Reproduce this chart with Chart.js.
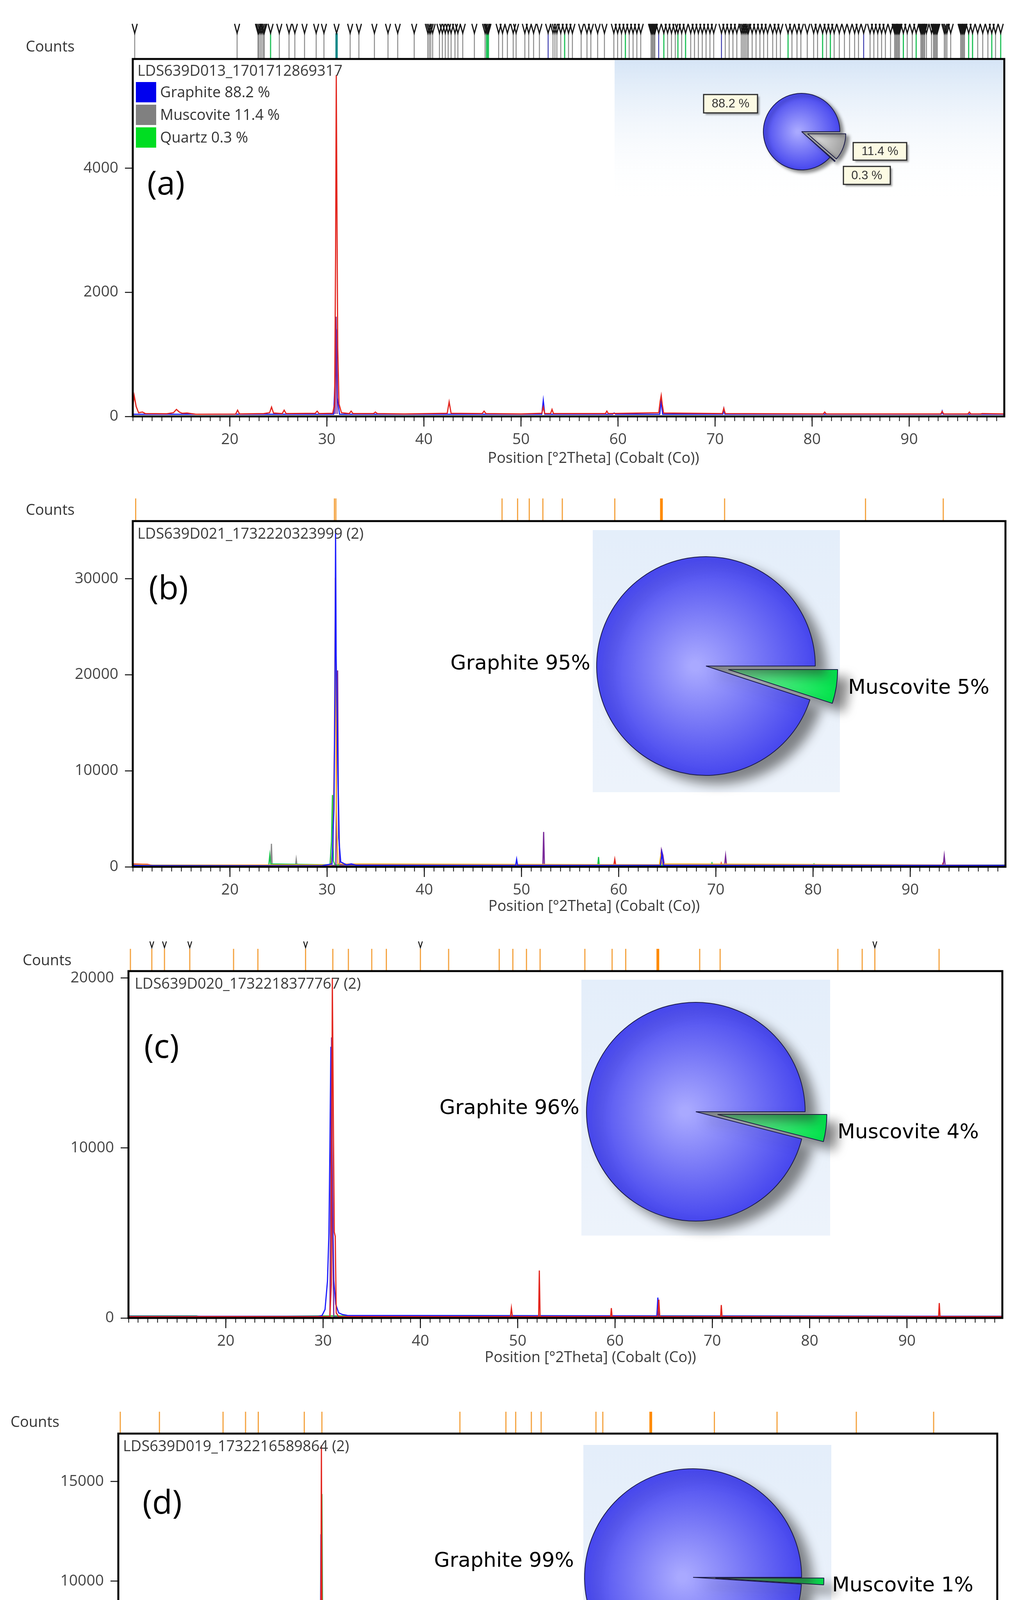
<!DOCTYPE html>
<html>
<head>
<meta charset="utf-8">
<title>XRD patterns (a)-(d)</title>
<script src="https://cdn.jsdelivr.net/npm/chart.js@4.4.1/dist/chart.umd.min.js"></script>
<style>
  html, body { margin: 0; padding: 0; background: #fff; }
  body { position: relative; width: 2602px; height: 4737px; overflow: hidden; }
  canvas { position: absolute; }
</style>
</head>
<body>
<canvas id="xrdA"></canvas>
<canvas id="pieA"></canvas>
<canvas id="xrdB"></canvas>
<canvas id="pieB"></canvas>
<canvas id="xrdC"></canvas>
<canvas id="pieC"></canvas>
<canvas id="xrdD"></canvas>
<canvas id="pieD"></canvas>
<script>
// ---------- shared axis data ----------
const xMin = 10;
const xMax = 99.8;
const xLabelTicks = [20, 30, 40, 50, 60, 70, 80, 90];
const xTitle = "Position [°2Theta] (Cobalt (Co))";

// ---------- (a) LDS639D013 ----------
const sampleA = "LDS639D013_1701712869317";
const countTicksA = [0, 2000, 4000];
const countMaxA = 5760;
const phasesA = ["Graphite", "Muscovite", "Quartz"];
const percentA = [88.2, 11.4, 0.3];
const obsA = [[10.0,150],[10.15,334],[10.35,160],[10.6,60],[11.0,70],[11.3,45],[13.5,42],[14.2,60],[14.5,113],[14.8,70],[15.1,50],[15.6,55],[16.0,45],[16.5,35],[20.6,38],[20.8,100],[21.0,40],[23.5,45],[24.1,60],[24.3,150],[24.5,55],[25.4,45],[25.6,100],[25.8,45],[28.8,50],[29.0,85],[29.2,45],[30.6,50],[30.8,200],[30.9,2600],[30.97,5500],[31.05,3000],[31.12,1100],[31.25,200],[31.5,60],[32.3,45],[32.5,85],[32.7,45],[34.8,45],[35.0,70],[35.2,45],[38.0,40],[42.4,50],[42.6,233],[42.8,50],[46.0,45],[46.2,85],[46.4,45],[50.0,40],[52.15,50],[52.3,150],[52.45,45],[53.05,45],[53.2,113],[53.35,45],[58.7,45],[58.85,85],[59.0,45],[64.2,60],[64.35,250],[64.45,337],[64.55,200],[64.7,55],[70.75,45],[70.9,131],[71.05,45],[81.15,40],[81.3,70],[81.45,40],[93.25,40],[93.4,80],[93.55,40],[96.05,40],[96.2,70],[96.35,40],[97.4,40],[97.5,45],[99.8,40]];
const calcA = [[10.0,35],[30.7,35],[30.85,600],[30.93,1420],[31.0,1380],[31.08,300],[31.3,35],[52.15,35],[52.3,258],[52.45,35],[59.45,35],[59.6,55],[59.75,35],[64.3,35],[64.45,250],[64.6,35],[70.8,35],[70.9,120],[71.0,35],[93.3,35],[93.4,85],[93.5,35],[99.8,35]];
const phaseA = [[30.85,40],[30.95,1607],[31.05,40]];
const refGrayA = [10.2,20.75,22.9,23.0,23.15,23.3,23.45,23.55,25.1,26.1,26.7,27.7,28.9,29.7,32.4,33.3,34.9,36.3,37.3,39.0,40.4,40.55,40.7,40.9,41.6,41.9,42.2,42.5,42.8,43.2,43.5,44.0,45.2,46.3,47.7,48.1,48.6,49.2,49.5,50.4,50.8,51.3,51.9,53.3,53.5,53.7,54.1,54.9,55.3,56.2,56.8,57.2,57.9,58.6,59.57,59.96,60.36,61.15,61.55,61.94,62.34,63.4,63.5,63.6,63.7,63.8,65.11,65.51,65.9,66.56,67.49,67.88,68.28,68.68,69.07,69.47,69.86,71.05,71.45,71.84,72.24,72.7,72.85,73.0,73.15,73.3,73.43,73.82,74.22,74.62,75.01,75.41,75.94,76.33,76.73,77.92,78.44,78.84,79.5,80.16,80.56,81.48,82.27,82.8,83.33,83.86,84.38,84.78,85.97,86.36,86.76,87.16,87.55,88.08,88.5,88.6,88.7,88.8,88.9,89.0,89.8,90.32,91.2,91.3,91.4,91.5,91.6,91.78,92.3,92.5,92.6,92.7,92.8,92.9,93.62,93.75,93.89,94.28,95.3,95.4,95.5,95.6,95.7,97.06,97.58,98.11,98.9];
const refGreenA = [24.2,46.45,46.55,46.65,54.5,60.76,64.72,66.17,66.96,77.52,81.08,81.88,89.4,90.72,96.13,96.53,98.51,99.43];
const refBlueA = [52.8,64.19,70.66,85.31];
const refTealA = [31.0];

// ---------- (b) LDS639D021 ----------
const sampleB = "LDS639D021_1732220323999 (2)";
const countTicksB = [0, 10000, 20000, 30000];
const countMaxB = 36000;
const phasesB = ["Muscovite", "Graphite"];
const percentB = [5, 95];
const blueB = [[10,150],[12,120],[24,110],[29.5,120],[30.5,300],[30.7,6000],[30.8,17600],[30.87,35200],[30.93,22000],[31.0,17000],[31.08,12000],[31.2,3000],[31.4,500],[32,200],[32.5,300],[33,150],[49.4,150],[49.5,780],[49.6,150],[64.3,150],[64.45,1400],[64.6,150],[99.8,150]];
const purpleB = [[10,100],[30.9,100],[31.0,15000],[31.08,20450],[31.15,8000],[31.3,200],[52.2,150],[52.28,3630],[52.36,150],[64.3,200],[64.4,1750],[64.55,1200],[64.7,150],[70.9,150],[71.0,1140],[71.1,150],[93.4,150],[93.5,1140],[93.6,150],[99.8,120]];
const orangeB = [[10,200],[11,230],[12,150],[30.4,200],[30.6,2000],[30.75,12650],[30.85,30100],[30.95,6000],[31.1,300],[64.2,200],[64.32,1100],[64.45,300],[99.8,160]];
const greenB = [[10,150],[24.0,150],[24.1,1220],[24.2,300],[30.3,200],[30.45,2650],[30.55,7470],[30.65,600],[30.8,200],[57.85,150],[57.93,1020],[58.0,150],[69.5,150],[69.6,400],[69.7,150],[80.0,150],[80.1,300],[80.2,150],[99.8,180]];
const grayB = [[10,150],[24.2,150],[24.27,2400],[24.35,150],[26.75,150],[26.82,780],[26.9,150],[99.8,150]];
const redB = [[10,300],[11.5,250],[12,150],[59.5,150],[59.6,780],[59.7,150],[70.5,150],[70.55,350],[70.6,150],[93.3,150],[93.35,300],[93.4,150],[99.8,150]];
const refOrangeB = [10.3,30.75,30.9,48.0,49.6,50.8,52.2,54.2,59.6,70.9,85.4,93.4];
const refStrongB = [64.4];

// ---------- (c) LDS639D020 ----------
const sampleC = "LDS639D020_1732218377767 (2)";
const countTicksC = [0, 10000, 20000];
const countMaxC = 20400;
const phasesC = ["Muscovite", "Graphite"];
const percentC = [4, 96];
const redC = [[10,80],[30.7,80],[30.85,2000],[30.95,20000],[31.05,12000],[31.15,5050],[31.25,4800],[31.35,300],[31.6,80],[49.25,80],[49.35,580],[49.45,80],[52.15,80],[52.22,2790],[52.3,80],[59.55,80],[59.62,580],[59.7,80],[64.4,80],[64.5,1080],[64.6,80],[70.85,80],[70.92,760],[71.0,80],[93.25,80],[93.32,875],[93.4,80],[99.8,80]];
const blueC = [[10,100],[29.5,100],[29.9,150],[30.2,500],[30.45,2170],[30.6,5000],[30.7,10000],[30.8,15950],[30.9,12000],[31.0,6000],[31.1,2200],[31.3,800],[31.6,300],[32.0,200],[32.5,150],[64.3,120],[64.4,1200],[64.5,120],[99.8,100]];
const purpleC = [[10,60],[30.7,60],[30.8,9000],[30.87,16500],[30.95,6000],[31.1,60],[99.8,60]];
const greenC = [[10,120],[17,120],[17.5,60],[29.5,120],[45,140],[99.8,100]];
const orangeC = [[10,90],[30,90],[47,110],[99.8,90]];
const refOrangeC = [10.2,12.4,13.7,16.3,20.8,23.3,28.2,31.0,32.6,35.0,36.5,40.0,42.9,48.1,49.5,50.9,52.3,56.9,59.7,61.1,68.7,70.8,82.9,85.4,86.7,93.3];
const refStrongC = [64.4];
const refMarkC = [12.4,13.7,16.3,28.2,40.0,86.7];

// ---------- (d) LDS639D019 ----------
const sampleD = "LDS639D019_1732216589864 (2)";
const countTicksD = [0, 5000, 10000, 15000];
const countMaxD = 17400;
const phasesD = ["Muscovite", "Graphite"];
const percentD = [1, 99];
const redD = [[10,150],[10.3,250],[10.6,100],[30.4,100],[30.55,3310],[30.65,2000],[30.75,16800],[30.85,2000],[31.0,100],[59.4,100],[59.5,450],[59.6,100],[64.3,100],[64.45,800],[64.6,100],[99.8,100]];
const blueD = [[10,80],[30.4,80],[30.5,600],[30.6,1000],[30.7,12350],[30.8,3000],[30.95,1500],[31.05,3230],[31.15,300],[31.3,80],[49.45,80],[49.52,530],[49.6,80],[52.22,80],[52.3,2350],[52.38,80],[64.3,80],[64.42,1140],[64.5,900],[64.6,80],[70.85,80],[70.92,650],[71.0,80],[93.25,80],[93.32,750],[93.4,80],[99.8,80]];
const greenD = [[10,100],[30.6,100],[30.8,14370],[30.95,100],[99.8,120]];
const orangeD = [[10,100],[14.2,100],[14.3,200],[14.4,100],[30.7,100],[30.8,10000],[30.9,100],[64.2,100],[64.3,500],[64.4,100],[99.8,100]];
const refOrangeD = [10.2,14.2,20.7,23.0,24.3,29.0,30.8,44.9,49.6,50.6,52.2,53.2,58.8,59.5,70.9,77.3,85.4,93.3];
const refStrongD = [64.4];

// ---------- styling ----------
const UI_FONT = "'Open Sans', 'Noto Sans', sans-serif";
const PIE_FONT = "'DejaVu Sans', Verdana, sans-serif";
const C = { red: "#e3261e", blue: "#1c1cff", purple: "#7a2a9a", orange: "#ffa31a", green: "#1cc24c", gray: "#8c8c8c" };
const sphere = { blue: ["#a9a9ff", "#4545ee"], green: ["#8effb2", "#00e24a"], gray: ["#f4f4f4", "#9f9f9f"] };

// marker band above the plot (reference line positions)
function markerBand(sets) {
  return {
    id: "markerBand",
    afterDraw(chart) {
      const { ctx, chartArea: a, scales: { x } } = chart;
      ctx.save();
      for (const s of sets) {
        for (const v of s.values) {
          const px = x.getPixelForValue(v);
          if (s.line !== false) {
            ctx.strokeStyle = s.color;
            ctx.lineWidth = s.width;
            ctx.beginPath();
            ctx.moveTo(px, a.top - s.height);
            ctx.lineTo(px, a.top);
            ctx.stroke();
          }
          if (s.glyph) {
            const g = s.glyph;
            ctx.strokeStyle = "#161616";
            ctx.lineWidth = g.lw || 3;
            ctx.beginPath();
            ctx.moveTo(px - g.w / 2, a.top + g.top);
            ctx.lineTo(px, a.top + g.top + g.h);
            ctx.lineTo(px + g.w / 2, a.top + g.top);
            ctx.stroke();
          }
        }
      }
      ctx.restore();
    }
  };
}

// frame, labels, legend
function xrdDecor(o) {
  return {
    id: "xrdDecor",
    afterDraw(chart) {
      const { ctx, chartArea: a, scales: { x } } = chart;
      ctx.save();
      ctx.strokeStyle = "#000";
      ctx.lineWidth = 5;
      ctx.strokeRect(a.left, a.top, a.right - a.left, a.bottom - a.top);
      ctx.lineWidth = 2.5;
      ctx.strokeStyle = "#111";
      for (const v of xLabelTicks) {
        const px = x.getPixelForValue(v);
        ctx.beginPath();
        ctx.moveTo(px, a.bottom);
        ctx.lineTo(px, a.bottom + 26);
        ctx.stroke();
      }
      ctx.textBaseline = "middle";
      ctx.textAlign = "left";
      ctx.fillStyle = "#333";
      ctx.font = "38px " + UI_FONT;
      ctx.fillText("Counts", o.countsX, a.top + o.countsDy);
      ctx.fillStyle = "#3a3a3a";
      ctx.fillText(o.sample, a.left + o.sampleDx, a.top + o.sampleDy);
      ctx.textAlign = "center";
      ctx.fillText(xTitle, (a.left + a.right) / 2 + 64, a.bottom + o.titleDy);
      ctx.textAlign = "left";
      ctx.fillStyle = "#000";
      ctx.font = "84px " + UI_FONT;
      ctx.fillText(o.letter, a.left + o.letterDx, a.top + o.letterDy);
      if (o.legend) {
        ctx.font = "38px " + UI_FONT;
        o.legend.forEach((item, i) => {
          const y = a.top + 59 + i * 58;
          ctx.fillStyle = item.color;
          ctx.fillRect(a.left + 8, y, 52, 52);
          ctx.fillStyle = "#333";
          ctx.fillText(item.text, a.left + 70, y + 28);
        });
      }
      ctx.restore();
    }
  };
}

function makeXrd(id, lay, series, countTicks, countMax, decor, markers) {
  const cv = document.getElementById(id);
  cv.width = 2602;
  cv.height = lay.height;
  cv.style.left = "0px";
  cv.style.top = lay.top + "px";
  new Chart(cv, {
    type: "line",
    data: {
      datasets: series.map(s => ({
        data: s.points.map(([x, y]) => ({ x, y })),
        borderColor: s.color,
        borderWidth: s.width || 3,
        pointRadius: 0,
        tension: 0,
        fill: false
      }))
    },
    options: {
      responsive: false,
      devicePixelRatio: 1,
      animation: false,
      events: [],
      parsing: false,
      layout: { padding: { left: 0, right: lay.padRight, top: lay.padTop, bottom: 0 } },
      scales: {
        x: {
          type: "linear",
          min: xMin,
          max: xMax,
          afterFit: s => { s.height = lay.xHeight; },
          ticks: {
            stepSize: 1,
            autoSkip: false,
            includeBounds: false,
            maxRotation: 0,
            padding: 24,
            color: "#444",
            font: { family: UI_FONT, size: 39 },
            callback: v => (xLabelTicks.includes(v) ? String(v) : "")
          },
          grid: { drawOnChartArea: false, tickLength: 12, tickWidth: 2, tickColor: "#111" },
          border: { display: false }
        },
        y: {
          type: "linear",
          min: 0,
          max: countMax,
          afterFit: s => { s.width = lay.yWidth; },
          afterBuildTicks: axis => { axis.ticks = countTicks.map(value => ({ value })); },
          ticks: {
            padding: 17,
            color: "#444",
            font: { family: UI_FONT, size: 39 },
            callback: v => String(v)
          },
          grid: { drawOnChartArea: false, tickLength: 20, tickWidth: 2.5, tickColor: "#111" },
          border: { display: false }
        }
      },
      plugins: { legend: { display: false }, tooltip: { enabled: false } }
    },
    plugins: [markerBand(markers), xrdDecor(decor)]
  });
}

// pie inset: background, shadow, exploded slices, labels
function pieDecor(o) {
  return {
    id: "pieDecor",
    afterUpdate(chart) {
      // pull slices straight out along their mid angle, keeping their radius
      chart.getDatasetMeta(0).data.forEach((arc, i) => {
        const shift = o.explode[i];
        if (!shift || arc.$exploded) return;
        const draw = arc.draw.bind(arc);
        arc.draw = function (ctx, area) {
          const mid = (this.startAngle + this.endAngle) / 2;
          ctx.save();
          ctx.translate(Math.cos(mid) * shift, Math.sin(mid) * shift);
          draw(ctx, area);
          ctx.restore();
        };
        arc.$exploded = true;
      });
    },
    beforeDraw(chart) {
      const { ctx, chartArea: a } = chart;
      const cx = (a.left + a.right) / 2, cy = (a.top + a.bottom) / 2;
      const [l, r, t, b] = o.bg;
      const g = ctx.createLinearGradient(0, cy + t, 0, cy + b);
      g.addColorStop(0, o.bgTop);
      g.addColorStop(1, o.bgBottom);
      ctx.save();
      ctx.fillStyle = g;
      ctx.fillRect(cx + l, cy + t, r - l, b - t);
      ctx.restore();
    },
    beforeDatasetsDraw(chart) {
      const ctx = chart.ctx;
      ctx.save();
      ctx.shadowColor = "rgba(40,40,40,0.55)";
      ctx.shadowBlur = o.shadow;
      ctx.shadowOffsetX = o.shadow;
      ctx.shadowOffsetY = o.shadow * 0.75;
    },
    afterDatasetsDraw(chart) {
      chart.ctx.restore();
    },
    afterDraw(chart) {
      const { ctx, chartArea: a } = chart;
      const cx = (a.left + a.right) / 2, cy = (a.top + a.bottom) / 2;
      ctx.save();
      ctx.textBaseline = "middle";
      for (const lab of o.labels) {
        if (lab.box) {
          const [x1, y1, x2, y2] = lab.box;
          ctx.save();
          ctx.shadowColor = "rgba(0,0,0,0.35)";
          ctx.shadowOffsetX = 5;
          ctx.shadowOffsetY = 5;
          ctx.shadowBlur = 4;
          ctx.fillStyle = "#fcfae3";
          ctx.fillRect(cx + x1, cy + y1, x2 - x1, y2 - y1);
          ctx.restore();
          ctx.strokeStyle = "#2a2a2a";
          ctx.lineWidth = 3;
          ctx.strokeRect(cx + x1, cy + y1, x2 - x1, y2 - y1);
          ctx.fillStyle = "#333";
          ctx.font = "31px 'Liberation Sans', Arial, sans-serif";
          ctx.textAlign = "center";
          ctx.fillText(lab.text, cx + (x1 + x2) / 2, cy + (y1 + y2) / 2 + 1);
        } else {
          ctx.fillStyle = "#000";
          ctx.font = "52px " + PIE_FONT;
          ctx.textAlign = lab.align;
          ctx.fillText(lab.text, cx + lab.x, cy + lab.y);
        }
      }
      ctx.restore();
    }
  };
}

function sphereFill(context, stops) {
  const chart = context.chart;
  const a = chart.chartArea;
  if (!a) return stops[1];
  const cx = (a.left + a.right) / 2, cy = (a.top + a.bottom) / 2;
  const r = chart.options.radius;
  const g = chart.ctx.createRadialGradient(cx - r * 0.1, cy, r * 0.04, cx, cy, r * 1.02);
  g.addColorStop(0, stops[0]);
  g.addColorStop(1, stops[1]);
  return g;
}

function makePie(id, lay, labels, values, fills, decor) {
  const cv = document.getElementById(id);
  cv.width = lay.w;
  cv.height = lay.h;
  cv.style.left = (lay.cx - lay.w / 2) + "px";
  cv.style.top = (lay.cy - lay.h / 2) + "px";
  new Chart(cv, {
    type: "pie",
    data: {
      labels,
      datasets: [{
        data: values,
        backgroundColor: ctx => sphereFill(ctx, fills[ctx.dataIndex]),
        borderColor: "#1c1c4c",
        borderWidth: 2
      }]
    },
    options: {
      responsive: false,
      devicePixelRatio: 1,
      animation: false,
      events: [],
      rotation: 90,
      radius: lay.r,
      layout: { padding: 0 },
      plugins: { legend: { display: false }, tooltip: { enabled: false } }
    },
    plugins: [pieDecor(decor)]
  });
}

// ---------- layout (positions only) ----------
const panelLayout = {
  a: { top: 0, height: 1201, padTop: 151, padRight: 30, yWidth: 340, xHeight: 135 },
  b: { top: 1210, height: 1138, padTop: 124, padRight: 27, yWidth: 340, xHeight: 129 },
  c: { top: 2352, height: 1151, padTop: 134, padRight: 35, yWidth: 329, xHeight: 129 },
  d: { top: 3505, height: 1182, padTop: 165, padRight: 48, yWidth: 303, xHeight: 129 }
};
const pieLayout = {
  a: { cx: 2053, cy: 337, w: 1038, h: 372, r: 98 },
  b: { cx: 1808, cy: 1705, w: 1480, h: 720, r: 280 },
  c: { cx: 1782, cy: 2846, w: 1480, h: 720, r: 280 },
  d: { cx: 1775, cy: 4038, w: 1480, h: 720, r: 278 }
};

// ---------- (a) ----------
const glyphA = { top: -90, h: 24, w: 13 };
makeXrd("xrdA", panelLayout.a,
  [{ points: obsA, color: C.red }, { points: phaseA, color: C.purple }, { points: calcA, color: C.blue }],
  countTicksA, countMaxA,
  { countsX: 66, countsDy: -30, sample: sampleA, sampleDx: 12, sampleDy: 32, letter: "(a)", letterDx: 37, letterDy: 323, titleDy: 108,
    legend: [
      { color: "#0000ee", text: `${phasesA[0]} ${percentA[0]} %` },
      { color: "#808080", text: `${phasesA[1]} ${percentA[1]} %` },
      { color: "#00dd22", text: `${phasesA[2]} ${percentA[2]} %` }
    ] },
  [
    { values: refGrayA, color: "#8c8c8c", width: 2.5, height: 66, glyph: glyphA },
    { values: refGreenA, color: "#22c25a", width: 3, height: 66, glyph: glyphA },
    { values: refBlueA, color: "#4040b0", width: 2.5, height: 66, glyph: glyphA },
    { values: refTealA, color: "#138a8a", width: 6, height: 66, glyph: glyphA }
  ]);
makePie("pieA", pieLayout.a, [phasesA[1], phasesA[2], phasesA[0]], [percentA[1], percentA[2], percentA[0]],
  [sphere.gray, sphere.green, sphere.blue],
  { explode: [16, 16, 0], bg: [-479, 516, -183, 186], bgTop: "#d6e5f6", bgBottom: "rgba(255,255,255,0)", shadow: 8,
    labels: [
      { text: `${percentA[0]} %`, box: [-251, -95, -113, -48] },
      { text: `${percentA[1]} %`, box: [132, 28, 269, 73] },
      { text: `${percentA[2]} %`, box: [107, 89, 227, 135] }
    ] });

// ---------- (b) ----------
makeXrd("xrdB", panelLayout.b,
  [{ points: blueB, color: C.blue }, { points: orangeB, color: C.orange }, { points: purpleB, color: C.purple },
   { points: greenB, color: C.green }, { points: grayB, color: C.gray }, { points: redB, color: C.red }],
  countTicksB, countMaxB,
  { countsX: 66, countsDy: -27, sample: sampleB, sampleDx: 12, sampleDy: 34, letter: "(b)", letterDx: 41, letterDy: 176, titleDy: 102 },
  [
    { values: refOrangeB, color: "#f4a340", width: 3, height: 58 },
    { values: refStrongB, color: "#ff8a00", width: 7, height: 58 }
  ]);
makePie("pieB", pieLayout.b, phasesB, percentB, [sphere.green, sphere.blue],
  { explode: [58, 0], bg: [-290, 343, -348, 323], bgTop: "#e4eefa", bgBottom: "#edf3fb", shadow: 28,
    labels: [
      { text: `${phasesB[1]} ${percentB[1]}%`, x: -296, y: -5, align: "right" },
      { text: `${phasesB[0]} ${percentB[0]}%`, x: 364, y: 57, align: "left" }
    ] });

// ---------- (c) ----------
makeXrd("xrdC", panelLayout.c,
  [{ points: redC, color: C.red }, { points: purpleC, color: C.purple }, { points: blueC, color: C.blue },
   { points: greenC, color: C.green }, { points: orangeC, color: C.orange }],
  countTicksC, countMaxC,
  { countsX: 58, countsDy: -26, sample: sampleC, sampleDx: 16, sampleDy: 34, letter: "(c)", letterDx: 40, letterDy: 198, titleDy: 102 },
  [
    { values: refOrangeC, color: "#f4a340", width: 3, height: 57 },
    { values: refStrongC, color: "#ff8a00", width: 7, height: 57 },
    { values: refMarkC, line: false, glyph: { top: -76, h: 16, w: 10, lw: 2.5 } }
  ]);
makePie("pieC", pieLayout.c, phasesC, percentC, [sphere.green, sphere.blue],
  { explode: [56, 0], bg: [-293, 344, -338, 317], bgTop: "#e4eefa", bgBottom: "#edf3fb", shadow: 28,
    labels: [
      { text: `${phasesC[1]} ${percentC[1]}%`, x: -298, y: -8, align: "right" },
      { text: `${phasesC[0]} ${percentC[0]}%`, x: 363, y: 54, align: "left" }
    ] });

// ---------- (d) ----------
makeXrd("xrdD", panelLayout.d,
  [{ points: redD, color: C.red }, { points: greenD, color: C.green }, { points: orangeD, color: C.orange },
   { points: blueD, color: C.blue }],
  countTicksD, countMaxD,
  { countsX: 27, countsDy: -28, sample: sampleD, sampleDx: 12, sampleDy: 34, letter: "(d)", letterDx: 62, letterDy: 181, titleDy: 102 },
  [
    { values: refOrangeD, color: "#f4a340", width: 3, height: 56 },
    { values: refStrongD, color: "#ff8a00", width: 7, height: 56 }
  ]);
makePie("pieD", pieLayout.d, phasesD, percentD, [sphere.green, sphere.blue],
  { explode: [57, 0], bg: [-281, 354, -339, 316], bgTop: "#e4eefa", bgBottom: "#eef3fb", shadow: 28,
    labels: [
      { text: `${phasesD[1]} ${percentD[1]}%`, x: -305, y: -41, align: "right" },
      { text: `${phasesD[0]} ${percentD[0]}%`, x: 356, y: 22, align: "left" }
    ] });
</script>
</body>
</html>
